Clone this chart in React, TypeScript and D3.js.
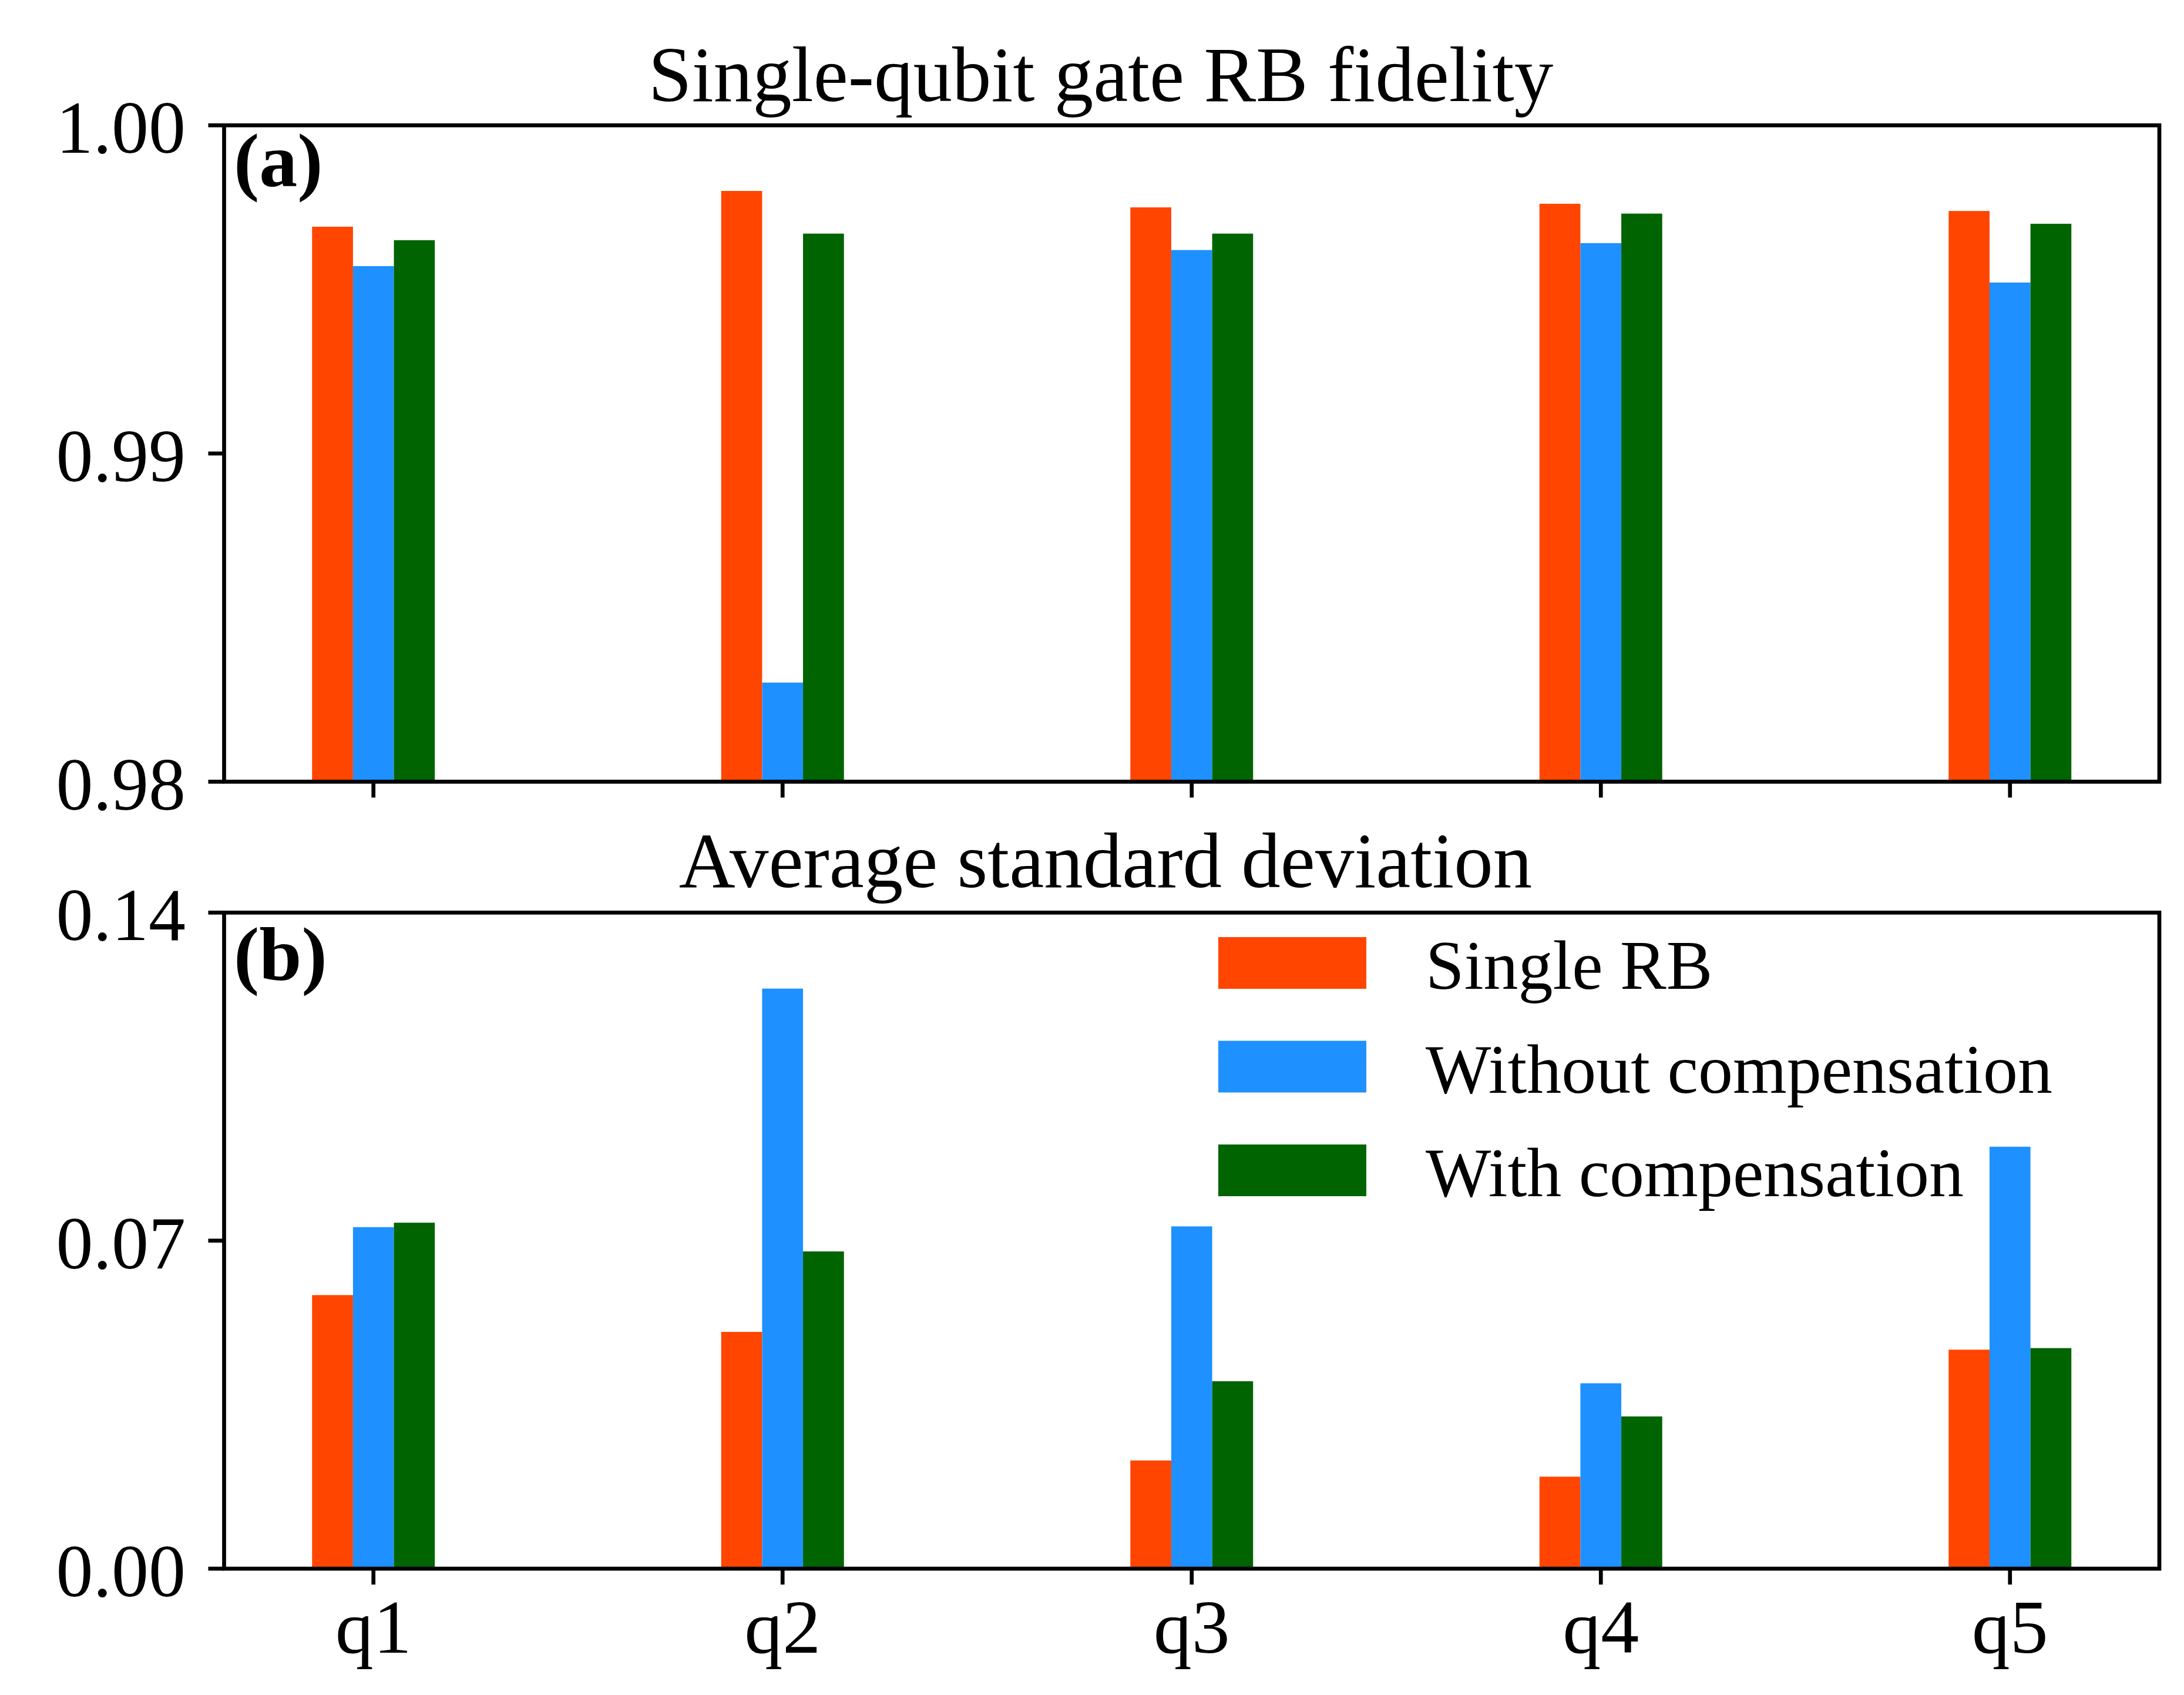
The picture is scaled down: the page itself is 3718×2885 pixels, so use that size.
import React from "react";
import * as d3 from "d3";

// ---- data ----
const qubits = ["q1", "q2", "q3", "q4", "q5"];
const seriesNames = ["Single RB", "Without compensation", "With compensation"];
const seriesColors = ["#FF4500", "#1E90FF", "#006400"];

const fidelitySingle = [0.99691, 0.998, 0.9975, 0.99761, 0.99739];
const fidelityWithout = [0.99571, 0.98302, 0.9962, 0.99641, 0.99521];
const fidelityWith = [0.9965, 0.9967, 0.9967, 0.99731, 0.997];

const stdSingle = [0.05838, 0.05053, 0.02309, 0.01963, 0.04673];
const stdWithout = [0.07288, 0.12378, 0.07304, 0.03956, 0.09004];
const stdWith = [0.07383, 0.0677, 0.04, 0.03249, 0.04707];

const fidelityTicks = [0.98, 0.99, 1.0];
const stdTicks = [0.0, 0.07, 0.14];

const titleA = "Single-qubit gate RB fidelity";
const titleB = "Average standard deviation";

// ---- layout ----
const W = 3718;
const H = 2885;
const left = 381.5;
const right = 3676;
const topA = 213.3;
const botA = 1330.5;
const topB = 1553.3;
const botB = 2670;
const FONT = "'Liberation Serif', 'Times New Roman', 'DejaVu Serif', serif";
const SPINE = 6.7;
const TICK = 27;
const barW = 0.1;

const x = d3.scaleLinear().domain([-0.365, 4.365]).range([left, right]);
const yA = d3.scaleLinear().domain([0.98, 1.0]).range([botA, topA]);
const yB = d3.scaleLinear().domain([0, 0.14]).range([botB, topB]);

const fidelitySeries = [fidelitySingle, fidelityWithout, fidelityWith];
const stdSeries = [stdSingle, stdWithout, stdWith];

function Panel({
  series,
  y,
  top,
  bot,
  ticks,
  fmt,
  showXLabels,
  label,
  labelBaseline,
  clipId,
}: any) {
  const base = y.domain()[0];
  return (
    <g>
      <defs>
        <clipPath id={clipId}>
          <rect x={left} y={top} width={right - left} height={bot - top} />
        </clipPath>
      </defs>
      <g clipPath={`url(#${clipId})`}>
        {series.map((vals: number[], si: number) =>
          vals.map((v, qi) => {
            const cx = qi + (si - 1) * barW;
            const x0 = x(cx - barW / 2);
            const x1 = x(cx + barW / 2);
            const yt = y(v);
            const yb = y(base);
            return (
              <rect
                key={`${si}-${qi}`}
                x={x0}
                y={yt}
                width={x1 - x0}
                height={yb - yt}
                fill={seriesColors[si]}
              />
            );
          })
        )}
      </g>
      {/* spines */}
      <rect
        x={left}
        y={top}
        width={right - left}
        height={bot - top}
        fill="none"
        stroke="#000"
        strokeWidth={SPINE}
      />
      {/* y ticks */}
      {ticks.map((t: number) => (
        <g key={t}>
          <line
            x1={left - TICK}
            x2={left}
            y1={y(t)}
            y2={y(t)}
            stroke="#000"
            strokeWidth={SPINE}
          />
          <text
            x={316}
            y={y(t) + 47}
            textAnchor="end"
            fontFamily={FONT}
            fontSize={126}
          >
            {fmt(t)}
          </text>
        </g>
      ))}
      {/* x ticks */}
      {qubits.map((q, i) => (
        <g key={q}>
          <line
            x1={x(i)}
            x2={x(i)}
            y1={bot}
            y2={bot + TICK}
            stroke="#000"
            strokeWidth={SPINE}
          />
          {showXLabels && (
            <text
              x={x(i)}
              y={2813}
              textAnchor="middle"
              fontFamily={FONT}
              fontSize={130}
            >
              {q}
            </text>
          )}
        </g>
      ))}
      <text
        x={398}
        y={labelBaseline}
        fontFamily={FONT}
        fontSize={130}
        fontWeight="bold"
      >
        {label}
      </text>
    </g>
  );
}

export default function App() {
  const fmt2 = d3.format(".2f");
  const legendTop = 1595;
  const legendStep = 176.5;
  const handleH = 88;
  return (
    <svg
      width={W}
      height={H}
      viewBox={`0 0 ${W} ${H}`}
      style={{ position: "absolute", left: 0, top: 0, background: "#fff" }}
    >
      <rect x={0} y={0} width={W} height={H} fill="#fff" />
      <text
        x={1874}
        y={172}
        textAnchor="middle"
        fontFamily={FONT}
        fontSize={133}
      >
        {titleA}
      </text>
      <text
        x={1882}
        y={1510}
        textAnchor="middle"
        fontFamily={FONT}
        fontSize={133}
      >
        {titleB}
      </text>
      <Panel
        series={fidelitySeries}
        y={yA}
        top={topA}
        bot={botA}
        ticks={fidelityTicks}
        fmt={fmt2}
        showXLabels={false}
        label="(a)"
        labelBaseline={316.7}
        clipId="clipA"
      />
      <Panel
        series={stdSeries}
        y={yB}
        top={topB}
        bot={botB}
        ticks={stdTicks}
        fmt={fmt2}
        showXLabels={true}
        label="(b)"
        labelBaseline={1668}
        clipId="clipB"
      />
      {/* legend */}
      {seriesNames.map((name, i) => {
        const ty = legendTop + i * legendStep;
        return (
          <g key={name}>
            <rect
              x={2074}
              y={ty}
              width={252}
              height={handleH}
              fill={seriesColors[i]}
            />
            <text
              x={2427}
              y={ty + handleH}
              fontFamily={FONT}
              fontSize={118}
            >
              {name}
            </text>
          </g>
        );
      })}
    </svg>
  );
}
